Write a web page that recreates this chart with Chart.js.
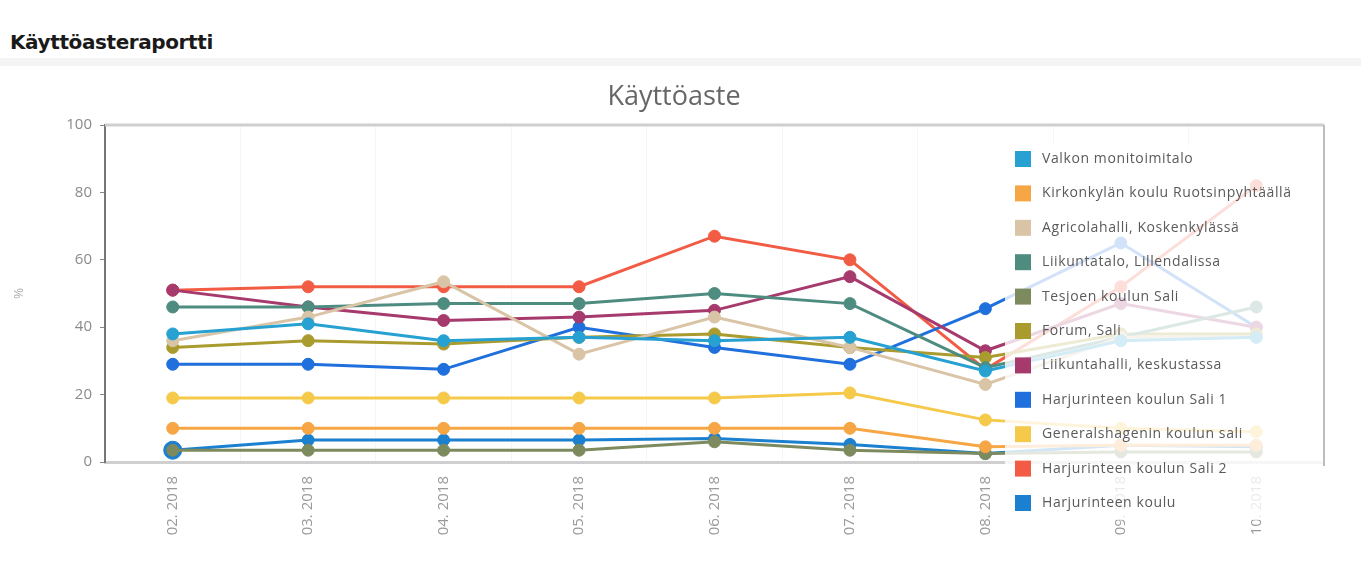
<!DOCTYPE html>
<html>
<head>
<meta charset="utf-8">
<script src="https://cdn.jsdelivr.net/npm/chart.js@4"></script>
<style>
  body { margin: 0; background: #fff; font-family: "Open Sans", sans-serif; }
  #head { position: absolute; left: 10px; top: 30px; font-family: "DejaVu Sans", sans-serif; font-size: 20px; font-weight: bold; color: #1a1a1a; letter-spacing: -0.4px; }
  #band { position: absolute; left: 0; top: 58px; width: 1361px; height: 8px; background: #f4f4f4; }
  #wrap { position: absolute; left: 0; top: 70px; width: 1361px; height: 499px; }
</style>
</head>
<body>
<div id="head">Käyttöasteraportti</div>
<div id="band"></div>
<div id="wrap"><canvas id="myChart"></canvas></div>
<script>
// kuukaudet
var months = ["02. 2018", "03. 2018", "04. 2018", "05. 2018", "06. 2018", "07. 2018", "08. 2018", "09. 2018", "10. 2018"];

// kayttoaste % per tila
var valkon      = [38, 41, 36, 37, 36, 37, 27, 36, 37];
var kirkonkyla  = [10, 10, 10, 10, 10, 10, 4.5, 5, 5];
var agricola    = [36, 43, 53.5, 32, 43, 34, 23, 37, 37];
var lillendal   = [46, 46, 47, 47, 50, 47, 28, 37, 46];
var tesjoki     = [3.5, 3.5, 3.5, 3.5, 6, 3.5, 2.5, 3, 3];
var forum       = [34, 36, 35, 37, 38, 34, 31, 38, 38];
var keskusta    = [51, 46, 42, 43, 45, 55, 33, 47, 40];
var harjuSali1  = [29, 29, 27.5, 40, 34, 29, 45.5, 65, 40];
var generals    = [19, 19, 19, 19, 19, 20.5, 12.5, 10, 9];
var harjuSali2  = [51, 52, 52, 52, 67, 60, 27.5, 52, 82];
var harjuKoulu  = [3.5, 6.5, 6.5, 6.5, 7, 5.2, 2.5, 5, 4.5];

var names = ["Valkon monitoimitalo", "Kirkonkylän koulu Ruotsinpyhtäällä", "Agricolahalli, Koskenkylässä",
  "Liikuntatalo, Lillendalissa", "Tesjoen koulun Sali", "Forum, Sali", "Liikuntahalli, keskustassa",
  "Harjurinteen koulun Sali 1", "Generalshagenin koulun sali", "Harjurinteen koulun Sali 2", "Harjurinteen koulu"];
var values = [valkon, kirkonkyla, agricola, lillendal, tesjoki, forum, keskusta, harjuSali1, generals, harjuSali2, harjuKoulu];
var colors = ["#27a0d2", "#f6a645", "#d9c4a6", "#4f8c80", "#7d8a5e", "#a99b2e", "#a63a6d", "#1f6fdc", "#f5c94a", "#f25b44", "#1a80cf"];

var datasets = names.map(function (n, i) {
  return {
    label: n,
    data: values[i],
    borderColor: colors[i],
    backgroundColor: colors[i],
    borderWidth: 3,
    pointRadius: i == 10 ? function (c) { return c.dataIndex == 0 ? 9 : 6; } : 6,
    pointBorderWidth: 1,
    tension: 0
  };
});

// legenda piirretaan kuvan paalle, puoliksi lapinakyva tausta
var boxLegend = {
  id: "boxLegend",
  afterDraw: function (chart) {
    var ctx = chart.ctx;
    ctx.save();
    ctx.fillStyle = "rgba(255,255,255,0.8)";
    ctx.fillRect(1005, 75, 318, 375);
    ctx.font = "14px 'Open Sans'";
    ctx.letterSpacing = "0.6px";
    ctx.textBaseline = "middle";
    chart.data.datasets.forEach(function (d, i) {
      var y = 89 + i * 34.4;
      ctx.fillStyle = d.borderColor;
      ctx.fillRect(1015, y - 8, 16, 16);
      ctx.fillStyle = "#5a5a5a";
      ctx.fillText(d.label, 1042, y);
    });
    ctx.restore();
  }
};

// ylareuna ja oikea reuna
var frame = {
  id: "frame",
  beforeDatasetsDraw: function (chart) {
    var a = chart.chartArea, ctx = chart.ctx;
    ctx.save();
    ctx.strokeStyle = "#cfcfcf";
    ctx.lineWidth = 3;
    ctx.beginPath();
    ctx.moveTo(a.left, a.top);
    ctx.lineTo(a.right, a.top);
    ctx.stroke();
    ctx.lineWidth = 2;
    ctx.strokeStyle = "#bdbdbd";
    ctx.beginPath();
    ctx.moveTo(a.right, a.top);
    ctx.lineTo(a.right, a.bottom + 4);
    ctx.stroke();
    ctx.restore();
  }
};

new Chart("myChart", {
  type: "line",
  data: { labels: months, datasets: datasets },
  plugins: [frame, boxLegend],
  options: {
    responsive: true,
    maintainAspectRatio: false,
    animation: false,
    layout: { padding: { right: 37, top: 0, bottom: 0, left: 24 } },
    plugins: {
      legend: { display: false },
      tooltip: { enabled: false },
      title: {
        display: true,
        text: "Käyttöaste",
        color: "#666",
        font: { size: 27, family: "Open Sans", weight: "500" },
        padding: { top: 11, bottom: 11.6 }
      }
    },
    scales: {
      x: {
        offset: true,
        afterFit: function (s) { s.height = 107; },
        grid: { color: "rgba(0,0,0,0.035)", drawTicks: false, offset: true },
        border: { color: "#cfcfcf", width: 3 },
        ticks: { minRotation: 90, maxRotation: 90, padding: 14, color: "#9a9a9a", font: { size: 15, family: "Open Sans" } }
      },
      y: {
        min: 0, max: 100,
        afterFit: function (s) { s.width = 81; },
        grid: { display: true, color: "transparent", tickColor: "#888", tickLength: 5 },
        border: { color: "#777", width: 2 },
        ticks: { stepSize: 20, padding: 8, color: "#8a8a8a", font: { size: 15, family: "Open Sans" } },
        title: { display: true, text: "%", color: "#aaa", font: { size: 12 }, padding: { top: -12, bottom: 0 } }
      }
    }
  }
});
</script>
</body>
</html>
